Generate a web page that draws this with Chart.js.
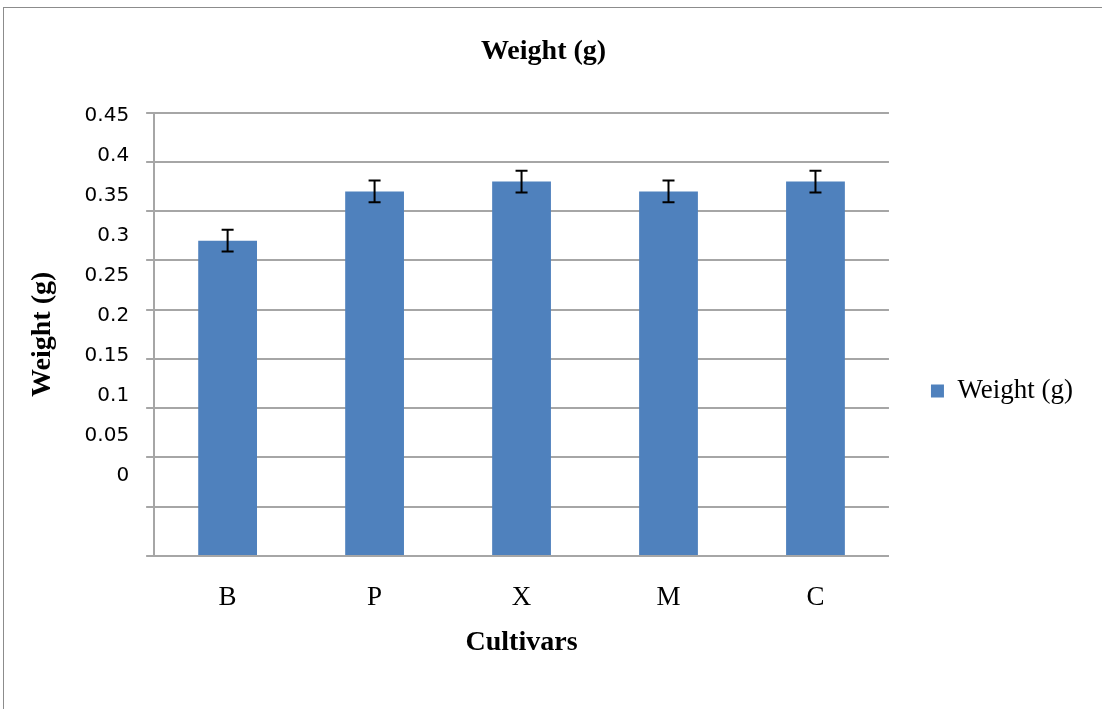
<!DOCTYPE html>
<html>
<head>
<meta charset="utf-8">
<title>Weight (g)</title>
<script src="https://cdn.jsdelivr.net/npm/chart.js@4.4.1/dist/chart.umd.min.js"></script>
<style>
    html, body {
        margin: 0;
        padding: 0;
        background: #ffffff;
        overflow: hidden;
    }
    .frame {
        position: absolute;
        left: 3px;
        top: 7px;
        width: 1200px;
        height: 800px;
        border: 1px solid #8c8c8c;
    }
    .chart-box {
        position: absolute;
        left: 4px;
        top: 8px;
        width: 1098px;
        height: 766px;
    }
</style>
</head>
<body>
<div class="frame"></div>
<div class="chart-box"><canvas id="weightChart"></canvas></div>
<script>
const cultivars = ['B', 'P', 'X', 'M', 'C'];
const weights = [0.32, 0.37, 0.38, 0.37, 0.38];
const weightErrors = [0.011, 0.011, 0.011, 0.011, 0.011];
const gridValues = [0, 0.05, 0.1, 0.15, 0.2, 0.25, 0.3, 0.35, 0.4, 0.45];
const tickLabels = ['0', '0.05', '0.1', '0.15', '0.2', '0.25', '0.3', '0.35', '0.4', '0.45'];

const serif = "'Liberation Serif', 'Times New Roman', serif";

// black error bars drawn on top of each bar
const errorBars = {
    id: 'errorBars',
    afterDatasetsDraw(chart) {
        const ctx = chart.ctx;
        const yScale = chart.scales.y;
        const meta = chart.getDatasetMeta(0);
        ctx.save();
        ctx.strokeStyle = '#000000';
        ctx.lineWidth = 2;
        meta.data.forEach((bar, i) => {
            const top = yScale.getPixelForValue(weights[i] + weightErrors[i]);
            const bottom = yScale.getPixelForValue(weights[i] - weightErrors[i]);
            ctx.beginPath();
            ctx.moveTo(bar.x, top);
            ctx.lineTo(bar.x, bottom);
            ctx.moveTo(bar.x - 6, top);
            ctx.lineTo(bar.x + 6, top);
            ctx.moveTo(bar.x - 6, bottom);
            ctx.lineTo(bar.x + 6, bottom);
            ctx.stroke();
        });
        ctx.restore();
    }
};

const ctx = document.getElementById('weightChart').getContext('2d');
new Chart(ctx, {
    type: 'bar',
    data: {
        labels: cultivars,
        datasets: [
            {
                label: 'Weight (g)',
                data: weights,
                backgroundColor: '#4F81BD',
                borderWidth: 0,
                barPercentage: 0.4,
                categoryPercentage: 1
            }
        ]
    },
    options: {
        responsive: true,
        maintainAspectRatio: false,
        animation: false,
        layout: {
            padding: { left: 0, right: 19, top: 0, bottom: 0 }
        },
        plugins: {
            title: {
                display: true,
                text: 'Weight (g)',
                color: '#000000',
                font: { family: serif, size: 28, weight: 'bold' },
                padding: { top: 27, bottom: 44 }
            },
            legend: {
                display: true,
                position: 'right',
                maxWidth: 260,
                labels: {
                    color: '#000000',
                    font: { family: serif, size: 27 },
                    boxWidth: 13,
                    boxHeight: 13,
                    padding: 42
                }
            },
            tooltip: { enabled: false }
        },
        scales: {
            x: {
                grid: { display: false, drawTicks: false },
                border: { display: true, color: '#a6a6a6', width: 2 },
                ticks: {
                    color: '#000000',
                    font: { family: serif, size: 27 },
                    padding: 26
                },
                title: {
                    display: true,
                    text: 'Cultivars',
                    color: '#000000',
                    font: { family: serif, size: 28, weight: 'bold' },
                    padding: { top: -14, bottom: 114 }
                }
            },
            y: {
                position: 'left',
                weight: 0,
                min: 0,
                max: 0.45,
                afterBuildTicks: axis => {
                    axis.ticks = gridValues.map(v => ({ value: v }));
                },
                grid: {
                    color: '#a6a6a6',
                    lineWidth: 2,
                    drawTicks: true,
                    tickLength: 8
                },
                border: { display: true, color: '#a6a6a6', width: 2 },
                ticks: { display: false }
            },
            // tick labels sit on their own spacing, offset from the gridlines
            yLabels: {
                type: 'linear',
                position: 'left',
                weight: 1,
                min: -0.0997,
                max: 0.4537,
                afterBuildTicks: axis => {
                    axis.ticks = gridValues.map(v => ({ value: v }));
                },
                grid: { display: false, drawTicks: false },
                border: { display: false },
                ticks: {
                    color: '#000000',
                    font: { family: "'DejaVu Sans', sans-serif", size: 20 },
                    padding: 17,
                    callback: (value, index) => tickLabels[index]
                },
                title: {
                    display: true,
                    text: 'Weight (g)',
                    color: '#000000',
                    font: { family: serif, size: 28, weight: 'bold' },
                    padding: { top: 22, bottom: 8 }
                }
            }
        }
    },
    plugins: [errorBars]
});
</script>
</body>
</html>
